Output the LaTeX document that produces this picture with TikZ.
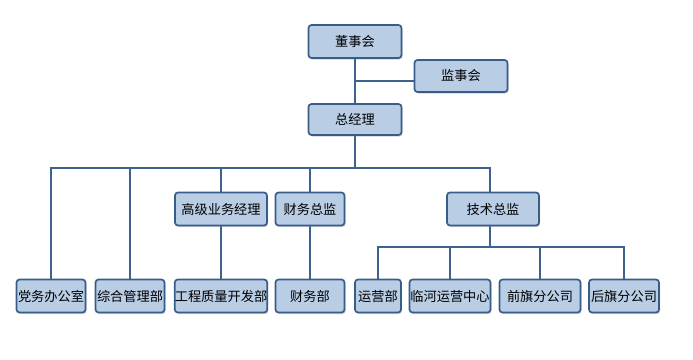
\documentclass[tikz,border=0pt]{standalone}
\usepackage{fontspec}
\setmainfont{Noto Sans CJK SC}
\usetikzlibrary{shadows,backgrounds}
\definecolor{boxfill}{HTML}{B9CDE5}
\definecolor{boxline}{HTML}{385D8A}
\definecolor{linkline}{HTML}{3E628E}
\tikzset{
  orgbox/.style={draw=boxline, fill=boxfill, line width=1.7pt, rounded corners=3pt,
    inner sep=0pt, minimum height=33pt, font=\fontsize{13.2}{15}\selectfont,
    drop shadow={shadow xshift=1pt, shadow yshift=-1.5pt, opacity=0.35}},
  link/.style={draw=linkline, line width=1.6pt}
}
\begin{document}
\begin{tikzpicture}[x=1pt, y=-1pt]
    \useasboundingbox (0,0) rectangle (693,359);

    % Top
    \node[orgbox, minimum width=93pt] (dsh) at (355,41.5) {董事会};
    \node[orgbox, minimum width=93pt, minimum height=32pt] (jsh) at (461,76) {监事会};
    \node[orgbox, minimum width=93pt, minimum height=31pt] (zjl) at (355,119.5) {总经理};

    % Middle
    \node[orgbox, minimum width=92pt] (gjywjl) at (221,209) {高级业务经理};
    \node[orgbox, minimum width=69pt] (cwzj) at (310,209) {财务总监};
    \node[orgbox, minimum width=92pt] (jszj) at (493,209) {技术总监};

    % Bottom
    \node[orgbox, minimum width=69pt] (dwbgs) at (51,296) {党务办公室};
    \node[orgbox, minimum width=69pt] (zhglb) at (130,296) {综合管理部};
    \node[orgbox, minimum width=92pt] (gczlkfb) at (221,296) {工程质量开发部};
    \node[orgbox, minimum width=69pt] (cwb) at (310,296) {财务部};
    \node[orgbox, minimum width=46pt] (yyb) at (378,296) {运营部};
    \node[orgbox, minimum width=81pt] (lhyyzx) at (450,296) {临河运营中心};
    \node[orgbox, minimum width=81pt] (qqfgs) at (540,296) {前旗分公司};
    \node[orgbox, minimum width=70pt] (hqfgs) at (624,296) {后旗分公司};

    % Junctions
    \coordinate (jdsh) at (355,81);
    \coordinate (jzjl) at (355,168);
    \coordinate (jjszj) at (490,247);

    % Links
    \begin{scope}[on background layer]
    \draw[link] (dsh) -- (zjl);
    \draw[link] (jdsh) -- (jdsh -| jsh.west);
    \draw[link] (zjl) -- (jzjl);
    \foreach \n in {dwbgs,zhglb,gjywjl,cwzj}
        \draw[link] (\n.north) |- (jzjl);
    \draw[link] (jszj.north -| jjszj) |- (jzjl);
    \draw[link] (gjywjl) -- (gczlkfb);
    \draw[link] (cwzj) -- (cwb);
    \draw[link] (jszj.south -| jjszj) -- (jjszj);
    \foreach \n in {yyb,lhyyzx,qqfgs,hqfgs}
        \draw[link] (\n.north) |- (jjszj);
    \end{scope}
\end{tikzpicture}
\end{document}
